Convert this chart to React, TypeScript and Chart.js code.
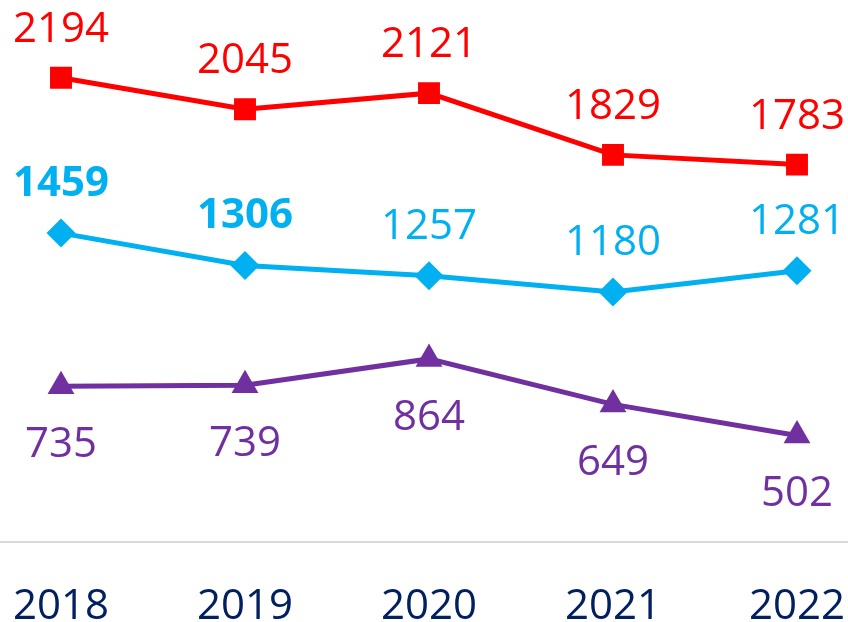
import React, { useEffect, useRef } from "react";
import { Chart, registerables } from "chart.js";

Chart.register(...registerables);

const years = ["2018", "2019", "2020", "2021", "2022"];
const redSeries = [2194, 2045, 2121, 1829, 1783];
const blueSeries = [1459, 1306, 1257, 1180, 1281];
const purpleSeries = [735, 739, 864, 649, 502];
const blueBoldIdx = [0, 1];

const FONT = "'Open Sans', 'Noto Sans', sans-serif";

const valueLabels = {
  id: "valueLabels",
  afterDatasetsDraw(chart: any) {
    const ctx = chart.ctx;
    chart.data.datasets.forEach((ds: any, di: number) => {
      const meta = chart.getDatasetMeta(di);
      meta.data.forEach((pt: any, i: number) => {
        const bold = (ds.boldIdx || []).includes(i);
        ctx.save();
        ctx.font = `${bold ? "bold " : ""}42px ${FONT}`;
        ctx.fillStyle = ds.borderColor;
        ctx.textAlign = "center";
        ctx.textBaseline = "middle";
        ctx.fillText(String(ds.data[i]), pt.x, pt.y + ds.labelOffset);
        ctx.restore();
      });
    });
  },
};

export default function App() {
  const ref = useRef<HTMLCanvasElement>(null);
  useEffect(() => {
    if (!ref.current) return;
    const chart = new Chart(ref.current, {
      type: "line",
      data: {
        labels: years,
        datasets: [
          {
            data: redSeries,
            borderColor: "#FF0000",
            backgroundColor: "#FF0000",
            borderWidth: 5,
            pointStyle: "rect",
            pointRadius: 15.5,
            pointBorderWidth: 0,
            labelOffset: -48,
          } as any,
          {
            data: blueSeries,
            borderColor: "#00B0F0",
            backgroundColor: "#00B0F0",
            borderWidth: 5,
            pointStyle: "rectRot",
            pointRadius: 14.5,
            pointBorderWidth: 0,
            labelOffset: -49,
            boldIdx: blueBoldIdx,
          } as any,
          {
            data: purpleSeries,
            borderColor: "#7030A0",
            backgroundColor: "#7030A0",
            borderWidth: 5,
            pointStyle: "triangle",
            pointRadius: 15.5,
            pointBorderWidth: 0,
            labelOffset: 59,
          } as any,
        ],
      },
      options: {
        responsive: false,
        animation: false,
        layout: { autoPadding: false, padding: { top: 13, left: 0, right: 0, bottom: 0 } },
        plugins: { legend: { display: false }, tooltip: { enabled: false } },
        scales: {
          x: {
            offset: true,
            grid: { display: false, drawTicks: false },
            border: { display: true, color: "#D9D9D9", width: 2 },
            ticks: {
              color: "#002060",
              font: { family: FONT, size: 42 },
              padding: 40,
              maxRotation: 0,
            },
          },
          y: {
            display: false,
            min: 0,
            max: 2500,
          },
        },
      },
      plugins: [valueLabels],
    });
    return () => chart.destroy();
  }, []);
  return (
    <div
      style={{
        position: "fixed",
        left: 0,
        top: 0,
        width: 848,
        height: 622,
        overflow: "hidden",
        background: "#fff",
      }}
    >
      <canvas
        ref={ref}
        width={920}
        height={672}
        style={{ position: "absolute", left: -31, top: 0, width: 920, height: 672 }}
      />
    </div>
  );
}
